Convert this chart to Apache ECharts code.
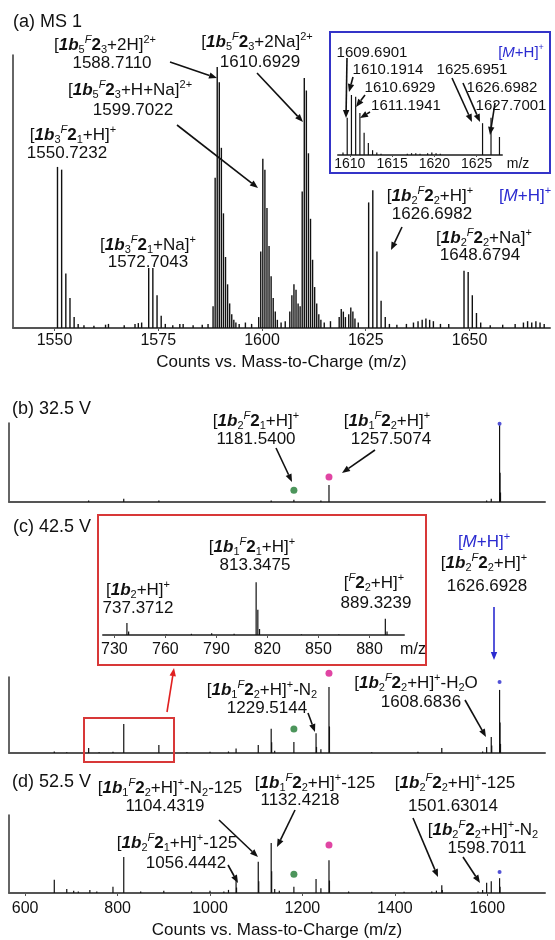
<!DOCTYPE html>
<html>
<head>
<meta charset="utf-8">
<script src="https://cdn.jsdelivr.net/npm/echarts@6/dist/echarts.min.js"></script>
<style>html,body{margin:0;padding:0;background:#fff}#chart{width:555px;height:940px}</style>
</head>
<body>
<div id="chart"></div>
<script>
// spectra as [m/z, relative intensity]
var msA = [[1550.72,59],[1551.72,58],[1552.73,20],[1553.73,11],[1554.73,4],[1555.7,1.5],
 [1557.1,1],[1559.5,0.8],[1562.3,1.2],[1563.0,1.5],[1566.8,1],[1569.4,1.5],[1570.2,1.8],[1571.0,2],
 [1572.70,22],[1573.70,22],[1574.71,12],[1575.71,4.5],[1576.7,1.5],
 [1578.5,1],[1580.2,1.5],[1581.0,1.5],[1583.4,1],[1585.6,1.2],[1587.0,1.5],
 [1588.21,8],[1588.71,55],[1589.21,95.6],[1589.71,90],[1590.21,66],[1590.71,42],[1591.21,26],[1591.71,16],[1592.21,9],[1592.71,5],[1593.21,3],[1593.71,2],[1594.5,1.5],[1596.0,2],[1597.5,1.5],
 [1599.20,4],[1599.70,28],[1600.20,62],[1600.70,58],[1601.20,44],[1601.70,30],[1602.20,19],[1602.70,11],[1603.20,6],[1603.70,3],[1604.6,2],[1605.6,2.5],
 [1606.7,6],[1607.2,12],[1607.7,16],[1608.2,14],[1608.7,9],
 [1609.19,8],[1609.69,50],[1610.19,91.6],[1610.69,87],[1611.19,64],[1611.69,40],[1612.19,25],[1612.69,15],[1613.19,9],[1613.69,5],[1614.19,3],[1615.0,2],[1616.5,2.5],
 [1618.6,4],[1619.1,7],[1619.6,6],[1620.1,4],[1620.9,5],[1621.4,7.5],[1621.9,6],[1622.4,3.5],[1623.2,2],
 [1625.70,46],[1626.70,50.5],[1627.70,28],[1628.70,10],[1629.7,4],[1630.7,1.5],
 [1632.5,1.2],[1634.8,1.5],[1636.5,2],[1637.6,2.5],[1638.6,3],[1639.5,3.5],[1640.4,3],[1641.3,2.5],[1643,1.5],[1645,1.5],
 [1648.68,21],[1649.68,20.5],[1650.68,12],[1651.68,5.5],[1652.7,2],
 [1655,1],[1658,1.2],[1661,1.5],[1663,2],[1664,2.5],[1665,2],[1666,2.5],[1667,2],[1668,1.5]];
var msAin = [[1609.19,4],[1609.69,62],[1610.19,100],[1610.69,97],[1611.19,70],[1611.69,37],[1612.19,20],[1612.69,8],[1613.19,4],[1613.69,2],
 [1616.8,2],[1617.3,3],[1617.8,3],[1618.3,2],[1619.2,3],[1619.7,4],[1620.2,3],[1620.7,2],
 [1625.70,53],[1626.70,62],[1627.70,30]];
var msB = [[737.37,2],[813.35,4],[889.32,2],[1132.42,2],[1181.54,3],[1240,2],[1257.51,21.5],[1598.7,2],[1608.68,4],[1626.69,97],[1627.69,37],[1628.69,12]];
var msC = [[663,2],[690,1],[737.37,6.6],[760,1],[790,1.5],[813.35,38],[889.32,10.5],[950,1],[1000,1.5],[1040,2],[1056.44,6],
 [1104.43,10.5],[1132.42,32],[1133.42,14],[1140,3],[1181.54,14.5],[1229.51,26],[1230.51,8],[1240,5],[1257.51,87],[1258.51,35],
 [1350,1],[1450,1.5],[1501.63,6.6],[1590,2],[1598.70,8],[1608.68,21],[1609.68,10],[1626.69,83],[1627.69,40],[1628.69,12]];
var msCin = [[737.37,20],[738.37,6],[760.5,1],[775.3,2],[787.2,3],[800.4,2],[813.35,88],[814.35,42],[815.35,10],[840,1],[862,1],[889.32,27],[890.32,6]];
var msD = [[663,17],[690,5],[705,3],[715,2],[740,4],[755,2],[790,8],[813.35,46],[850,2],[900,3],[960,2],[1000,3],[1030,2],[1040,4],
 [1056.44,20.5],[1057.44,7],[1104.43,40],[1105.43,15],[1132.42,64],[1133.42,28],[1140,5],[1150,3],[1181.54,8],[1229.51,18],[1240,6],
 [1257.51,42],[1258.51,16],[1300,2],[1350,1.5],[1420,1.5],[1480,2],[1490,3],[1501.63,10],[1502.63,4],[1580,2],[1590,4],[1598.70,13],
 [1608.68,15],[1626.69,19],[1627.69,8]];

// coloured markers: green, magenta, blue
var dotColors = ["#1f7a32","#d8168c","#2727cc"];
var dotsB = [[1181.54,15],[1257.51,31.6],[1626.69,99]];
var dotsC = [[1181.54,31.6],[1257.51,105],[1626.69,93.4]];
var dotsD = [[1181.54,24],[1257.51,61.5],[1626.69,27]];

var ticksA = [1550,1575,1600,1625,1650];
var ticksAin = [1610,1615,1620,1625];
var ticksCin = [730,760,790,820,850,880];
var ticksD = [600,800,1000,1200,1400,1600];
var axisTitle = "Counts vs. Mass-to-Charge (m/z)";

var FF = '"Liberation Sans", Arial, sans-serif';
var BLUE = "#2b2bd0";

function rich(fs, col){
 var s = Math.round(fs*0.62);
 function st(o){ o.fontFamily = FF; o.fill = col; o.color = col; return o; }
 return {
  bi: st({fontSize:fs, fontWeight:"bold", fontStyle:"italic", lineHeight:fs+4}),
  b: st({fontSize:fs, fontWeight:"bold", lineHeight:fs+4}),
  i: st({fontSize:fs, fontStyle:"italic", lineHeight:fs+4}),
  sub: st({fontSize:s, lineHeight:s+1, verticalAlign:"bottom"}),
  sup: st({fontSize:s, lineHeight:s+1, verticalAlign:"top"}),
  supi: st({fontSize:s, fontStyle:"italic", lineHeight:s+1, verticalAlign:"top"})
 };
}
function T(x, y, s, fs, col, al){
 fs = fs || 17; col = col || "#111";
 return {type:"text", x:x, y:y, z:50, style:{text:s, fontSize:fs, fontFamily:FF, fill:col, lineHeight:fs+4,
   align:al||"center", verticalAlign:"middle", rich:rich(fs,col)}};
}
function arrow(x1, y1, x2, y2, col){
 col = col || "#111";
 var a = Math.atan2(y2-y1, x2-x1), L = 8, W = 3.2;
 var bx = x2-L*Math.cos(a), by = y2-L*Math.sin(a);
 return {type:"group", z:50, children:[
  {type:"line", shape:{x1:x1,y1:y1,x2:bx,y2:by}, style:{stroke:col, lineWidth:1.6}},
  {type:"polygon", shape:{points:[[x2,y2],[bx+W*Math.sin(a),by-W*Math.cos(a)],[bx-W*Math.sin(a),by+W*Math.cos(a)]]}, style:{fill:col}}
 ]};
}
function box(x, y, w, h, col){
 return {type:"rect", z:40, shape:{x:x,y:y,width:w,height:h}, style:{fill:null, stroke:col, lineWidth:2}};
}

var F1 = "[{bi|1b}{sub|5}{supi|F}{b|2}{sub|3}";
var MH = "[{i|M}+H]{sup|+}";

var texts = [
 T(13,22,"(a) MS 1",18,"#111","left"),
 T(105,45,F1+"+2H]{sup|2+}"),
 T(112,63,"1588.7110"),
 T(130,90,F1+"+H+Na]{sup|2+}"),
 T(133,110,"1599.7022"),
 T(73,135,"[{bi|1b}{sub|3}{supi|F}{b|2}{sub|1}+H]{sup|+}"),
 T(67,153,"1550.7232"),
 T(257,42,F1+"+2Na]{sup|2+}"),
 T(260,62,"1610.6929"),
 T(148,245,"[{bi|1b}{sub|3}{supi|F}{b|2}{sub|1}+Na]{sup|+}"),
 T(148,262,"1572.7043"),
 T(430,196,"[{bi|1b}{sub|2}{supi|F}{b|2}{sub|2}+H]{sup|+}"),
 T(525,196,MH,17,BLUE),
 T(432,214,"1626.6982"),
 T(484,238,"[{bi|1b}{sub|2}{supi|F}{b|2}{sub|2}+Na]{sup|+}"),
 T(480,255,"1648.6794"),
 // inset (a)
 T(372,53,"1609.6901",15),
 T(521,53,MH,15,BLUE),
 T(388,70,"1610.1914",15),
 T(472,70,"1625.6951",15),
 T(400,88,"1610.6929",15),
 T(502,88,"1626.6982",15),
 T(406,106,"1611.1941",15),
 T(511,106,"1627.7001",15),
 T(518,164,"m/z",14),
 // (b)
 T(12,409,"(b) 32.5 V",18,"#111","left"),
 T(256,421,"[{bi|1b}{sub|2}{supi|F}{b|2}{sub|1}+H]{sup|+}"),
 T(256,439,"1181.5400"),
 T(387,421,"[{bi|1b}{sub|1}{supi|F}{b|2}{sub|2}+H]{sup|+}"),
 T(391,439,"1257.5074"),
 // (c)
 T(13,527,"(c) 42.5 V",18,"#111","left"),
 T(252,547,"[{bi|1b}{sub|1}{supi|F}{b|2}{sub|1}+H]{sup|+}"),
 T(255,565,"813.3475"),
 T(138,590,"[{bi|1b}{sub|2}+H]{sup|+}"),
 T(138,608,"737.3712"),
 T(374,583,"[{supi|F}{b|2}{sub|2}+H]{sup|+}"),
 T(376,603,"889.3239"),
 T(413,650,"m/z",16),
 T(484,542,MH,17,BLUE),
 T(484,563,"[{bi|1b}{sub|2}{supi|F}{b|2}{sub|2}+H]{sup|+}"),
 T(487,586,"1626.6928"),
 T(262,690,"[{bi|1b}{sub|1}{supi|F}{b|2}{sub|2}+H]{sup|+}-N{sub|2}"),
 T(267,708,"1229.5144"),
 T(416,683,"[{bi|1b}{sub|2}{supi|F}{b|2}{sub|2}+H]{sup|+}-H{sub|2}O"),
 T(421,702,"1608.6836"),
 // (d)
 T(12,782,"(d) 52.5 V",18,"#111","left"),
 T(170,788,"[{bi|1b}{sub|1}{supi|F}{b|2}{sub|2}+H]{sup|+}-N{sub|2}-125"),
 T(165,806,"1104.4319"),
 T(315,783,"[{bi|1b}{sub|1}{supi|F}{b|2}{sub|2}+H]{sup|+}-125"),
 T(300,800,"1132.4218"),
 T(455,783,"[{bi|1b}{sub|2}{supi|F}{b|2}{sub|2}+H]{sup|+}-125"),
 T(453,806,"1501.63014"),
 T(177,843,"[{bi|1b}{sub|2}{supi|F}{b|2}{sub|1}+H]{sup|+}-125"),
 T(186,863,"1056.4442"),
 T(483,830,"[{bi|1b}{sub|2}{supi|F}{b|2}{sub|2}+H]{sup|+}-N{sub|2}"),
 T(487,848,"1598.7011")
];

var arrows = [
 arrow(170,62,217,78), arrow(257,73,303,122), arrow(177,125,258,188), arrow(402,227,391,250),
 arrow(347,58,346,118), arrow(353,77,349,92), arrow(365,95,356,107), arrow(370,112,360,118),
 arrow(452,78,472,122), arrow(463,83,480,122), arrow(495,103,490,135),
 arrow(276,448,292,482), arrow(375,450,342,473),
 arrow(494,607,494,660,BLUE), arrow(167,712,174,668,"#e02020"), arrow(308,713,315,732), arrow(465,700,486,737),
 arrow(219,820,258,857), arrow(295,810,277,847), arrow(228,865,238,883), arrow(413,818,438,877), arrow(463,857,480,883)
];

var boxes = [box(330,32,220,141,"#3434c8"), box(98,515,328,150,"#d83838"), box(84,718,90,44,"#d83838")];

function grid(l, t, w, h){ return {left:l, top:t, width:w, height:h, containLabel:false, outerBoundsMode:"none"}; }
var nameStyle = {fontSize:17, color:"#111", fontFamily:FF};
function noComma(v){ return String(v); }
function xa(i, min, max, o){
 var a = {type:"value", gridIndex:i, min:min, max:max, splitLine:{show:false},
  axisLine:{show:true, onZero:false, lineStyle:{color:"#555", width:2}},
  axisTick:{show:false}, axisLabel:{show:false}};
 for(var k in o) a[k] = o[k];
 return a;
}
function ticks(vals, fs, margin, len){
 return {
  axisLabel:{show:true, customValues:vals, formatter:noComma, margin:margin, fontSize:fs, color:"#111", fontFamily:FF},
  axisTick:{show:true, customValues:vals, length:len, lineStyle:{color:"#555"}}
 };
}
function ya(i, line){
 return {type:"value", gridIndex:i, min:0, max:100, splitLine:{show:false}, axisTick:{show:false}, axisLabel:{show:false},
  axisLine:{show:line, lineStyle:{color:"#333", width:1.5}}};
}
function peaks(d, i, w){ return {type:"bar", xAxisIndex:i, yAxisIndex:i, data:d, barWidth:w||1.2, itemStyle:{color:"#111"}, silent:true}; }
function dots(d, i){
 return {type:"scatter", xAxisIndex:i, yAxisIndex:i, data:d, clip:false, z:5, silent:true,
  symbolSize:function(v,p){ return p.dataIndex==2 ? 4 : 7; },
  itemStyle:{color:function(p){ return dotColors[p.dataIndex]; }}};
}

var ta = ticks(ticksA,16,5,3);
ta.name = axisTitle; ta.nameLocation = "middle"; ta.nameGap = 26; ta.nameTextStyle = nameStyle;
var td = ticks(ticksD,16,8,3);
td.name = axisTitle; td.nameLocation = "middle"; td.nameGap = 29; td.nameTextStyle = nameStyle;

var chart = echarts.init(document.getElementById("chart"));
var option = {
 animation:false,
 backgroundColor:"#fff",
 grid:[grid(13,55,537,273), grid(338,95,164,60), grid(9,423,536,79), grid(9,677,536,76), grid(103,575,301,60), grid(9,815,536,78)],
 xAxis:[
  xa(0,1540,1669.4,ta),
  xa(1,1608.6,1628,ticks(ticksAin,14,2,2)),
  xa(2,565,1725,{}),
  xa(3,565,1725,{}),
  xa(4,723.3,900.3,ticks(ticksCin,16,7,3)),
  xa(5,565,1725,td)
 ],
 yAxis:[ya(0,true), ya(1,false), ya(2,true), ya(3,true), ya(4,false), ya(5,true)],
 series:[peaks(msA,0,1.4), peaks(msAin,1), peaks(msB,2), peaks(msC,3), peaks(msCin,4), peaks(msD,5),
  dots(dotsB,2), dots(dotsC,3), dots(dotsD,5)],
 graphic:{elements:boxes.concat(arrows, texts)}
};
chart.setOption(option);
</script>
</body>
</html>
